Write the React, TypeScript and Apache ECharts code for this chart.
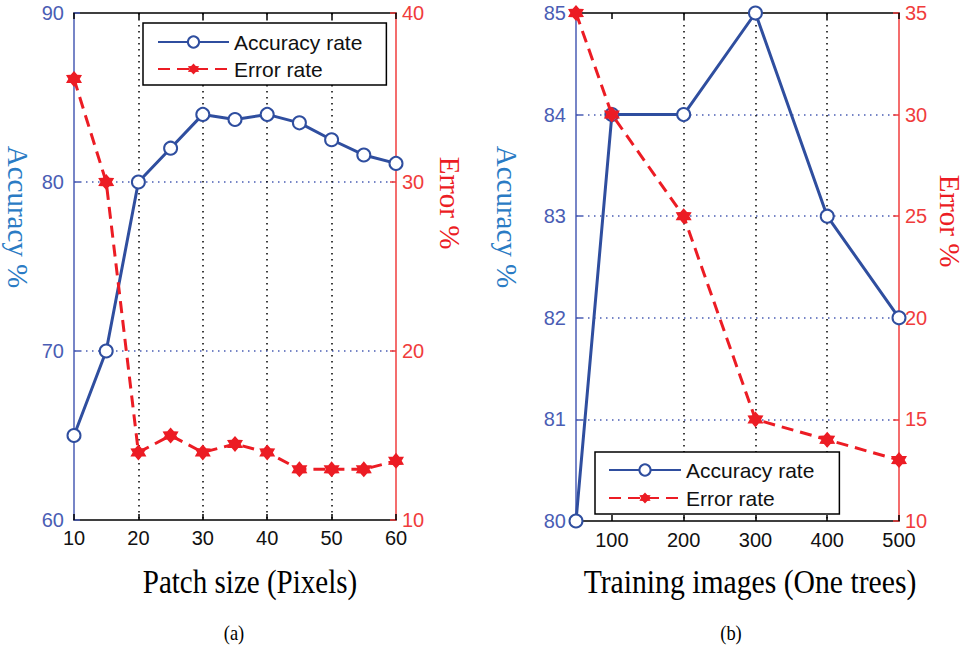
import React, { useEffect, useRef } from "react";
import * as echarts from "echarts";

// ---- Data (a): Patch size ----
const patchSizes = [10, 15, 20, 25, 30, 35, 40, 45, 50, 55, 60];
const patchAccuracy = [65, 70, 80, 82, 84, 83.7, 84, 83.5, 82.5, 81.6, 81.1];
const patchError = [36.1, 30, 14, 15, 14, 14.5, 14, 13, 13, 13, 13.5];

// ---- Data (b): Training images ----
const trainImages = [50, 100, 200, 300, 400, 500];
const trainAccuracy = [80, 84, 84, 85, 83, 82];
const trainError = [35, 30, 25, 15, 14, 13];
const trainTicks = [100, 200, 300, 400, 500];

const seriesNames = ["Accuracy rate", "Error rate"];
const captions = ["Patch size (Pixels)", "Training images (One trees)"];
const subCaptions = ["(a)", "(b)"];
const yNames = ["Accuracy %", "Error %"];

const BLUE = "#2f4e9f";
const RED = "#ec1c24";
const AXIS_BLUE = "#4a5db4";
const AXIS_RED = "#f03c3c";
const NAME_BLUE = "#2a7bc4";
const STAR =
  "path://M0,-10L3.6,-5.2L8.7,-5L6.2,0L8.7,5L3.6,5.2L0,10L-3.6,5.2L-8.7,5L-6.2,0L-8.7,-5L-3.6,-5.2Z";

const zip = (xs: number[], ys: number[]) => xs.map((x, i) => [x, ys[i]]);

export default function App() {
  const ref = useRef<HTMLDivElement>(null);
  useEffect(() => {
    if (!ref.current) return;
    const chart = echarts.init(ref.current, null, { renderer: "svg" });

    const sans = "Liberation Sans";
    const serif = "Liberation Serif";
    const labelSize = 20;

    const bottomX = (grid: number, extra: any) => ({
      type: "value",
      gridIndex: grid,
      position: "bottom",
      axisLine: { onZero: false, lineStyle: { color: "#000", width: 1.5 } },
      axisTick: { inside: true, length: 6, lineStyle: { color: "#000", width: 1.5 } },
      axisLabel: { color: "#111", fontSize: labelSize, fontFamily: sans, margin: 8 },
      splitLine: {
        show: true,
        showMinLine: false,
        showMaxLine: false,
        lineStyle: { color: "#000", width: 1.5, type: [1.5, 4.5] },
      },
      ...extra,
    });
    const topX = (grid: number, extra: any) => ({
      type: "value",
      gridIndex: grid,
      position: "top",
      axisLine: { onZero: false, lineStyle: { color: "#000", width: 1.5 } },
      axisTick: { inside: true, length: 6, lineStyle: { color: "#000", width: 1.5 } },
      axisLabel: { show: false },
      splitLine: { show: false },
      ...extra,
    });
    const leftY = (grid: number, extra: any) => ({
      type: "value",
      gridIndex: grid,
      position: "left",
      axisLine: { show: true, onZero: false, lineStyle: { color: AXIS_BLUE, width: 1.5 } },
      axisTick: { show: true, inside: true, length: 6, lineStyle: { color: AXIS_BLUE, width: 1.5 } },
      axisLabel: { color: AXIS_BLUE, fontSize: labelSize, fontFamily: sans, margin: 10 },
      splitLine: {
        show: true,
        showMinLine: false,
        showMaxLine: false,
        lineStyle: { color: AXIS_BLUE, width: 1.5, type: [1.5, 4.5] },
      },
      ...extra,
    });
    const rightY = (grid: number, extra: any) => ({
      type: "value",
      gridIndex: grid,
      position: "right",
      axisLine: { show: true, onZero: false, lineStyle: { color: AXIS_RED, width: 1.5 } },
      axisTick: { show: true, inside: true, length: 6, lineStyle: { color: AXIS_RED, width: 1.5 } },
      axisLabel: { color: AXIS_RED, fontSize: labelSize, fontFamily: sans, margin: 6 },
      splitLine: { show: false },
      ...extra,
    });

    const accSeries = (xi: number, yi: number, data: number[][]) => ({
      type: "line",
      name: seriesNames[0],
      xAxisIndex: xi,
      yAxisIndex: yi,
      data,
      clip: false,
      symbol: "emptyCircle",
      symbolSize: 13,
      lineStyle: { color: BLUE, width: 3 },
      itemStyle: { color: BLUE, borderWidth: 2.2 },
      z: 3,
    });
    const errSeries = (xi: number, yi: number, data: number[][]) => ({
      type: "line",
      name: seriesNames[1],
      xAxisIndex: xi,
      yAxisIndex: yi,
      data,
      clip: false,
      symbol: STAR,
      symbolSize: 16,
      lineStyle: { color: RED, width: 3, type: [12, 7] },
      itemStyle: { color: RED },
      z: 4,
    });

    const legend = (left: number, top: number, padding: number[], itemWidth: number, gap: number) => ({
      left,
      top,
      orient: "vertical",
      padding,
      itemWidth,
      itemHeight: 14,
      itemGap: gap,
      data: seriesNames,
      selectedMode: false,
      backgroundColor: "#fff",
      borderColor: "#000",
      borderWidth: 1.5,
      textStyle: { fontSize: 21, fontFamily: sans, color: "#111", lineHeight: 22 },
      z: 10,
    });

    const vText = (x: number, y: number, text: string, color: string) => ({
      type: "text",
      x,
      y,
      rotation: -Math.PI / 2,
      style: {
        text,
        fill: color,
        font: `29px ${serif}`,
        align: "center",
        verticalAlign: "middle",
      },
    });
    const hText = (x: number, y: number, text: string, size: number, sx = 1) => ({
      type: "text",
      x,
      y,
      scaleX: sx,
      style: {
        text,
        fill: "#000",
        font: `${size}px ${serif}`,
        align: "center",
        verticalAlign: "middle",
      },
    });

    chart.setOption({
      animation: false,
      backgroundColor: "#fff",
      grid: [
        { left: 74, top: 13, width: 322, height: 507 },
        { left: 576, top: 13, width: 323, height: 508 },
      ],
      xAxis: [
        bottomX(0, { min: 10, max: 60, interval: 10 }),
        topX(0, { min: 10, max: 60, interval: 10 }),
        bottomX(1, {
          min: 50,
          max: 500,
          axisTick: {
            inside: true,
            length: 6,
            customValues: trainTicks,
            lineStyle: { color: "#000", width: 1.5 },
          },
          axisLabel: {
            color: "#111",
            fontSize: labelSize,
            fontFamily: sans,
            margin: 9,
            customValues: trainTicks,
          },
        }),
        topX(1, {
          min: 50,
          max: 500,
          axisTick: {
            inside: true,
            length: 6,
            customValues: trainTicks,
            lineStyle: { color: "#000", width: 1.5 },
          },
        }),
      ],
      yAxis: [
        leftY(0, { min: 60, max: 90, interval: 10 }),
        rightY(0, { min: 10, max: 40, interval: 10 }),
        leftY(1, { min: 80, max: 85, interval: 1 }),
        rightY(1, { min: 10, max: 35, interval: 5 }),
      ],
      legend: [
        legend(143, 23, [8, 24, 5, 14], 71, 5),
        legend(595, 452, [7, 25, 5, 13], 72, 6),
      ],
      series: [
        accSeries(0, 0, zip(patchSizes, patchAccuracy)),
        errSeries(0, 1, zip(patchSizes, patchError)),
        accSeries(2, 2, zip(trainImages, trainAccuracy)),
        errSeries(2, 3, zip(trainImages, trainError)),
      ],
      graphic: [
        vText(18, 217, yNames[0], NAME_BLUE),
        vText(450, 203, yNames[1], RED),
        vText(507, 217, yNames[0], NAME_BLUE),
        vText(950, 221, yNames[1], RED),
        hText(250, 582, captions[0], 33, 0.88),
        hText(750, 582, captions[1], 33, 0.9),
        hText(234, 633, subCaptions[0], 21, 0.88),
        hText(731, 633, subCaptions[1], 21, 0.88),
      ],
    });
    return () => chart.dispose();
  }, []);

  return (
    <div
      ref={ref}
      style={{ position: "fixed", left: 0, top: 0, width: 968, height: 649, background: "#fff" }}
    />
  );
}
